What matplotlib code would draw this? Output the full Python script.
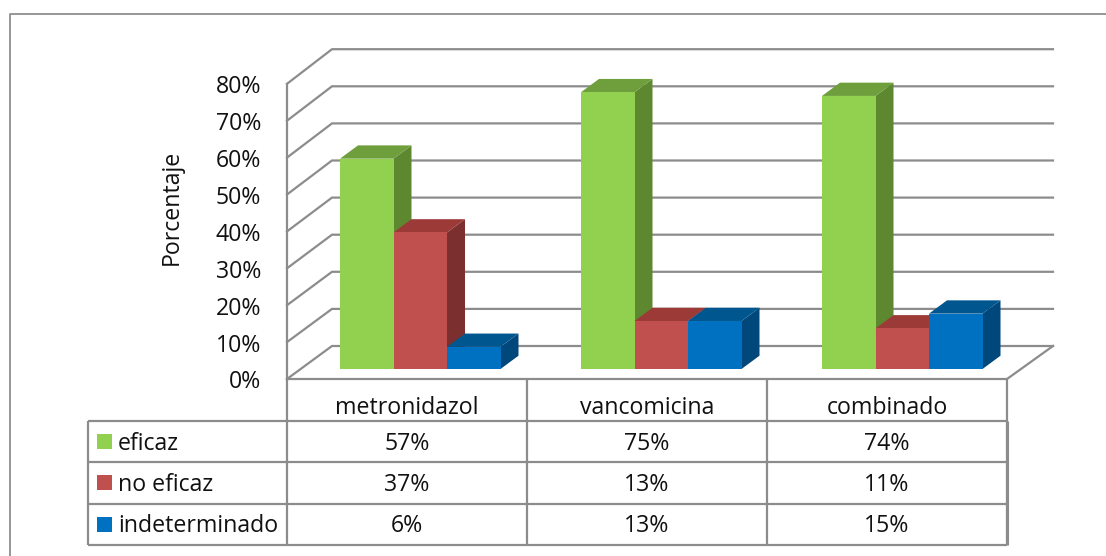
import matplotlib
matplotlib.use("Agg")
import matplotlib.pyplot as plt
from matplotlib.patches import Polygon, Rectangle

plt.rcParams['font.family'] = ['Open Sans', 'DejaVu Sans']

categories = ["metronidazol", "vancomicina", "combinado"]
series_names = ["eficaz", "no eficaz", "indeterminado"]
eficaz = [57, 75, 74]
no_eficaz = [37, 13, 11]
indeterminado = [6, 13, 15]
y_ticks = [0, 10, 20, 30, 40, 50, 60, 70, 80]

front_colors = ["#92D050", "#C0504D", "#0070C0"]
top_colors = ["#6F9F3C", "#9C3A38", "#00568F"]
side_colors = ["#5E8830", "#7B2F2E", "#00487C"]
grid_color = "#8C8C8C"
text_color = "#111111"
font_size = 16.7

W, H = 1106, 556
fig = plt.figure(figsize=(W / 100, H / 100), dpi=100)

# pixel axes for the frame, walls and table
ax = fig.add_axes([0, 0, 1, 1])
ax.set_xlim(0, W)
ax.set_ylim(H, 0)
ax.axis("off")

# value axes: x counts groups, y is the percentage, bar base sits above the floor
px_per_pct = 3.69
group_step = 241
bar_width = 53.5 / group_step
base_px = 369
left_px = 340
val = fig.add_axes([0, 0, 1, 1])
val.set_xlim(-left_px / group_step, (W - left_px) / group_step)
val.set_ylim(-(H - base_px) / px_per_pct, base_px / px_per_pct)
val.axis("off")
val.patch.set_alpha(0)

# depth of the bars, in value axes units
bar_dx = 18 / group_step
bar_dy = 13.3 / px_per_pct

# frame: open on the right and at the bottom
ax.plot([10, 10, W], [H, 14, 14], color="#8F8F8F", lw=1.3)

# walls and gridlines
floor_y, back_y = 379, 346
wall_dx = 45
right = 1007
front_step = 36.9
back_step = 37.1
for t in y_ticks:
    y = floor_y - t / 10 * front_step
    yb = back_y - t / 10 * back_step
    ax.plot([287, 287 + wall_dx, right + wall_dx + 1], [y, yb, yb], color=grid_color, lw=1.6, solid_joinstyle="miter")
    ax.text(261, y + 3.5, f"{t}%", ha="right", va="center", fontsize=font_size, color=text_color)
ax.plot([287, 287], [floor_y, floor_y - 80 / 10 * front_step], color=grid_color, lw=1.6)
ax.plot([287, right, right + wall_dx + 1], [floor_y, floor_y, back_y], color=grid_color, lw=1.6)
ax.text(172, 207, "Porcentaje", rotation=90, ha="center", va="center", fontsize=font_size, color=text_color)

# bars: back groups first so the fronts overlap correctly
series = [eficaz, no_eficaz, indeterminado]
for g in range(len(categories)):
    for s, values in enumerate(series):
        x0 = g + s * bar_width
        x1 = x0 + bar_width
        v = values[g]
        val.add_patch(Polygon([(x1, 0), (x1 + bar_dx, bar_dy), (x1 + bar_dx, v + bar_dy), (x1, v)], fc=side_colors[s], ec="none", zorder=3 + s))
        val.add_patch(Polygon([(x0, v), (x0 + bar_dx, v + bar_dy), (x1 + bar_dx, v + bar_dy), (x1, v)], fc=top_colors[s], ec="none", zorder=3 + s))
        val.add_patch(Rectangle((x0, 0), bar_width, v, fc=front_colors[s], ec="none", zorder=3 + s))

# data table under the plot
col_x = [287, 527, 767, 1007]
row_y = [379, 421, 462, 504, 545]
label_left = 88
line = dict(color=grid_color, lw=1.6, solid_capstyle="butt")
for x in col_x:
    ax.plot([x, x], [row_y[0], row_y[-1]], **line)
ax.plot([label_left, label_left], [row_y[1], row_y[-1]], **line)
ax.plot([col_x[-1], col_x[-1]], [row_y[1], row_y[-1]], color=grid_color, lw=2.2, solid_capstyle="butt")
for y in row_y[1:]:
    ax.plot([label_left, col_x[-1]], [y, y], **line)
for i, name in enumerate(categories):
    ax.text((col_x[i] + col_x[i + 1]) / 2, 408, name, ha="center", va="center", fontsize=font_size, color=text_color)
for r, name in enumerate(series_names):
    yc = (row_y[r + 1] + row_y[r + 2]) / 2
    ax.add_patch(Rectangle((97, yc - 8), 15, 15, fc=front_colors[r], ec="none"))
    ax.text(118, yc + 2, name, ha="left", va="center", fontsize=font_size, color=text_color)
    for i, values in enumerate(zip(*series)):
        ax.text((col_x[i] + col_x[i + 1]) / 2, yc + 2, f"{values[r]}%", ha="center", va="center", fontsize=font_size, color=text_color)

fig.savefig("out.png", dpi=100, facecolor="white")
